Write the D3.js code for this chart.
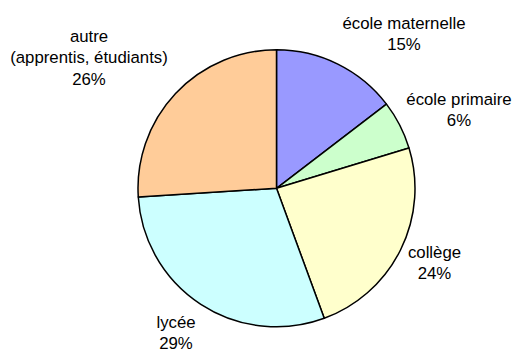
<!DOCTYPE html>
<html>
<head>
<meta charset="utf-8">
<script src="https://cdn.jsdelivr.net/npm/d3@7"></script>
<style>
  html, body { margin: 0; padding: 0; background: #fff; }
  svg { display: block; }
</style>
</head>
<body>
<svg id="chart" width="513" height="349"></svg>
<script>
// Data
const categories = ["école maternelle", "école primaire", "collège", "lycée", "autre\n(apprentis, étudiants)"];
const values = [14.6, 5.7, 24.1, 29.6, 26.0];
const pctLabels = ["15%", "6%", "24%", "29%", "26%"];
const colors = ["#9999FF", "#CCFFCC", "#FFFFCC", "#CCFFFF", "#FFCC99"];

// Layout
const W = 513, H = 349;
const cx = 276.5, cy = 188.3, R = 138.5;
// label placement relative to pie centre: [x offset of text centre, first baseline offset]
const labelOffsets = [[127.5, -159.3], [182.5, -83.3], [158, 69.7], [-100.5, 139.7], [-187.5, -146.6]];
const lineH = 21.4;

const svg = d3.select("#chart");
const g = svg.append("g").attr("transform", `translate(${cx},${cy})`);

const pie = d3.pie().sort(null).value(d => d).startAngle(0).endAngle(2 * Math.PI);
const arc = d3.arc().innerRadius(0).outerRadius(R);
const arcs = pie(values);

g.selectAll("path.slice")
  .data(arcs)
  .join("path")
  .attr("class", "slice")
  .attr("d", arc)
  .attr("fill", (d, i) => colors[i])
  .attr("stroke", "#000")
  .attr("stroke-width", 1.5)
  .attr("stroke-linejoin", "round");

const labels = g.selectAll("text.lbl")
  .data(arcs)
  .join("text")
  .attr("class", "lbl")
  .attr("text-anchor", "middle")
  .attr("font-family", "'Liberation Sans', Arial, sans-serif")
  .attr("font-size", 16.8)
  .attr("fill", "#000");

labels.each(function(d, i) {
  const t = d3.select(this);
  const lines = categories[i].split("\n").concat([pctLabels[i]]);
  const [ox, oy] = labelOffsets[i];
  lines.forEach((ln, k) => {
    t.append("tspan")
      .attr("x", ox)
      .attr("y", oy + k * lineH)
      .text(ln);
  });
});
</script>
</body>
</html>
